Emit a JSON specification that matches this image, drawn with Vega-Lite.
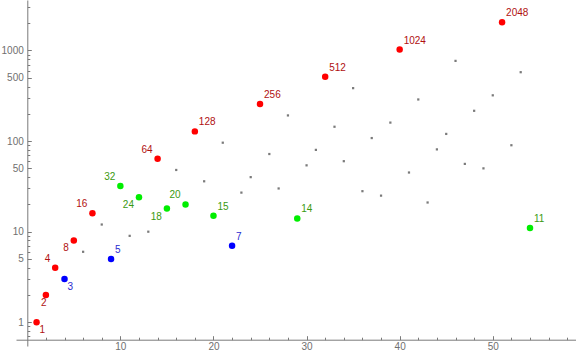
{
  "$schema": "https://vega.github.io/schema/vega-lite/v6.json",
  "width": 560,
  "height": 346,
  "autosize": {"type": "none"},
  "padding": {"left": 16, "top": 0, "right": 0, "bottom": 10},
  "background": "white",
  "config": {"view": {"stroke": null}, "axis": {"grid": false}},
  "data": {"values": [
    {"n": 1, "v": 1, "k": "A"}, {"n": 2, "v": 2, "k": "A"}, {"n": 3, "v": 4, "k": "A"}, {"n": 4, "v": 3, "k": "B"},
    {"n": 5, "v": 8, "k": "A"}, {"n": 6, "v": 6, "k": "D"}, {"n": 7, "v": 16, "k": "A"}, {"n": 8, "v": 12, "k": "D"},
    {"n": 9, "v": 5, "k": "B"}, {"n": 10, "v": 32, "k": "C"}, {"n": 11, "v": 9, "k": "D"}, {"n": 12, "v": 24, "k": "C"},
    {"n": 13, "v": 10, "k": "D"}, {"n": 14, "v": 64, "k": "A"}, {"n": 15, "v": 18, "k": "C"}, {"n": 16, "v": 48, "k": "D"},
    {"n": 17, "v": 20, "k": "C"}, {"n": 18, "v": 128, "k": "A"}, {"n": 19, "v": 36, "k": "D"}, {"n": 20, "v": 15, "k": "C"},
    {"n": 21, "v": 96, "k": "D"}, {"n": 22, "v": 7, "k": "B"}, {"n": 23, "v": 27, "k": "D"}, {"n": 24, "v": 40, "k": "D"},
    {"n": 25, "v": 256, "k": "A"}, {"n": 26, "v": 72, "k": "D"}, {"n": 27, "v": 30, "k": "D"}, {"n": 28, "v": 192, "k": "D"},
    {"n": 29, "v": 14, "k": "C"}, {"n": 30, "v": 54, "k": "D"}, {"n": 31, "v": 80, "k": "D"}, {"n": 32, "v": 512, "k": "A"},
    {"n": 33, "v": 144, "k": "D"}, {"n": 34, "v": 60, "k": "D"}, {"n": 35, "v": 384, "k": "D"}, {"n": 36, "v": 28, "k": "D"},
    {"n": 37, "v": 108, "k": "D"}, {"n": 38, "v": 25, "k": "D"}, {"n": 39, "v": 160, "k": "D"}, {"n": 40, "v": 1024, "k": "A"},
    {"n": 41, "v": 45, "k": "D"}, {"n": 42, "v": 288, "k": "D"}, {"n": 43, "v": 21, "k": "D"}, {"n": 44, "v": 81, "k": "D"},
    {"n": 45, "v": 120, "k": "D"}, {"n": 46, "v": 768, "k": "D"}, {"n": 47, "v": 56, "k": "D"}, {"n": 48, "v": 216, "k": "D"},
    {"n": 49, "v": 50, "k": "D"}, {"n": 50, "v": 320, "k": "D"}, {"n": 51, "v": 2048, "k": "A"}, {"n": 52, "v": 90, "k": "D"},
    {"n": 53, "v": 576, "k": "D"}, {"n": 54, "v": 11, "k": "C"}
  ]},
  "encoding": {
    "x": {
      "field": "n", "type": "quantitative",
      "scale": {"domain": [-1.21, 58.94], "nice": false, "zero": false},
      "axis": {
        "title": null, "offset": -6.3,
        "values": [2,4,6,8,10,12,14,16,18,20,22,24,26,28,30,32,34,36,38,40,42,44,46,48,50,52,54,56,58],
        "labelExpr": "datum.value % 10 == 0 ? format(datum.value, 'd') : ''",
        "tickSize": {"condition": {"test": "datum.value % 10 == 0", "value": -4}, "value": -2.5},
        "domainColor": "#7a7a7a", "tickColor": "#7a7a7a", "labelColor": "#6f6f6f",
        "labelFont": "Liberation Sans", "labelFontSize": 10, "labelPadding": 5.5, "labelFlush": false, "labelOverlap": false
      }
    },
    "y": {
      "field": "v", "type": "quantitative",
      "scale": {"type": "log", "domain": [0.5475, 3608], "nice": false},
      "axis": {
        "title": null, "offset": -11.3,
        "values": [0.7,0.8,0.9,1,2,3,4,5,6,7,8,9,10,20,30,40,50,60,70,80,90,100,200,300,400,500,600,700,800,900,1000,2000,3000],
        "labelExpr": "indexof([1,5,10,50,100,500,1000], datum.value) >= 0 ? format(datum.value, 'd') : ''",
        "tickSize": {"condition": {"test": "indexof([1,5,10,50,100,500,1000], datum.value) >= 0", "value": -4}, "value": -2.5},
        "domainColor": "#7a7a7a", "tickColor": "#7a7a7a", "labelColor": "#6f6f6f",
        "labelFont": "Liberation Sans", "labelFontSize": 10, "labelPadding": 8, "labelFlush": false, "labelOverlap": false
      }
    }
  },
  "layer": [
    {
      "transform": [{"filter": "datum.k == 'D'"}],
      "mark": {"type": "square", "size": 5, "color": "#7a7a7a", "opacity": 1}
    },
    {
      "transform": [{"filter": "datum.k != 'D'"}],
      "mark": {"type": "circle", "opacity": 1},
      "encoding": {
        "color": {"field": "k", "type": "nominal", "scale": {"domain": ["A", "B", "C"], "range": ["#ff0000", "#0000ff", "#00ee00"]}, "legend": null},
        "size": {"field": "k", "type": "nominal", "scale": {"domain": ["A", "B", "C"], "range": [42, 42, 18]}, "legend": null}
      }
    },
    {
      "transform": [{"filter": "indexof([128,256,512,1024,2048,5,7,15,14,11], datum.v) >= 0 && datum.k != 'D'"}],
      "mark": {"type": "text", "align": "left", "baseline": "middle", "dx": 4, "dy": -9, "font": "Liberation Sans", "fontSize": 10},
      "encoding": {
        "text": {"field": "v", "type": "quantitative", "format": "d"},
        "color": {"field": "k", "type": "nominal", "scale": {"domain": ["A", "B", "C"], "range": ["#b01010", "#2a2ad0", "#3a9a10"]}, "legend": null}
      }
    },
    {
      "transform": [{"filter": "indexof([4,16,64,32,20], datum.v) >= 0 && datum.k != 'D'"}],
      "mark": {"type": "text", "align": "right", "baseline": "middle", "dx": -5, "dy": -9, "font": "Liberation Sans", "fontSize": 10},
      "encoding": {
        "text": {"field": "v", "type": "quantitative", "format": "d"},
        "color": {"field": "k", "type": "nominal", "scale": {"domain": ["A", "B", "C"], "range": ["#b01010", "#2a2ad0", "#3a9a10"]}, "legend": null}
      }
    },
    {
      "transform": [{"filter": "indexof([8,24,18], datum.v) >= 0 && datum.k != 'D'"}],
      "mark": {"type": "text", "align": "right", "baseline": "middle", "dx": -5, "dy": 8, "font": "Liberation Sans", "fontSize": 10},
      "encoding": {
        "text": {"field": "v", "type": "quantitative", "format": "d"},
        "color": {"field": "k", "type": "nominal", "scale": {"domain": ["A", "B", "C"], "range": ["#b01010", "#2a2ad0", "#3a9a10"]}, "legend": null}
      }
    },
    {
      "transform": [{"filter": "indexof([1,3], datum.v) >= 0 && datum.k != 'D'"}],
      "mark": {"type": "text", "align": "left", "baseline": "middle", "dx": 3, "dy": 8, "font": "Liberation Sans", "fontSize": 10},
      "encoding": {
        "text": {"field": "v", "type": "quantitative", "format": "d"},
        "color": {"field": "k", "type": "nominal", "scale": {"domain": ["A", "B", "C"], "range": ["#b01010", "#2a2ad0", "#3a9a10"]}, "legend": null}
      }
    },
    {
      "transform": [{"filter": "datum.v == 2"}],
      "mark": {"type": "text", "align": "center", "baseline": "middle", "dx": -2, "dy": 8, "font": "Liberation Sans", "fontSize": 10},
      "encoding": {
        "text": {"field": "v", "type": "quantitative", "format": "d"},
        "color": {"field": "k", "type": "nominal", "scale": {"domain": ["A", "B", "C"], "range": ["#b01010", "#2a2ad0", "#3a9a10"]}, "legend": null}
      }
    }
  ],
  "resolve": {"scale": {"color": "independent", "size": "independent"}}
}
